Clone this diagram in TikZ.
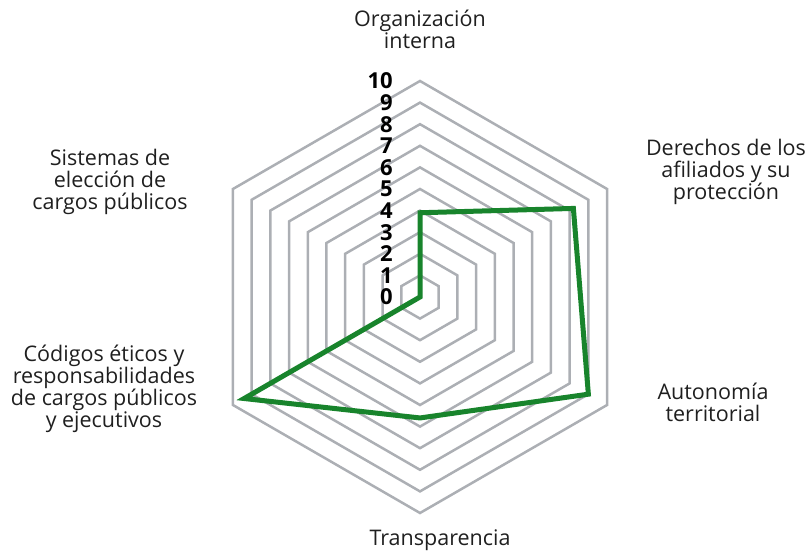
\documentclass[tikz,border=0pt]{standalone}
\usepackage{fontspec}
\setmainfont{Open Sans}
\usetikzlibrary{positioning}

\definecolor{ringgray}{RGB}{172,175,180}
\definecolor{scoregreen}{RGB}{24,132,44}

\tikzset{
  ring/.style={draw=ringgray, line width=2.5pt, line join=miter},
  score/.style={draw=scoregreen, line width=5pt, line join=miter},
  axislabel/.style={align=center, text=black!88, inner sep=0pt,
    font=\fontsize{21.5}{21.8}\selectfont},
  ticklabel/.style={anchor=east, inner sep=0pt,
    font=\bfseries\fontsize{22}{22}\selectfont}
}

\begin{document}
\begin{tikzpicture}[x=1pt, y=1pt]
    \useasboundingbox (0,0) rectangle (812,556);
    \coordinate (O) at (420,259);
    \begin{scope}[shift={(O)}]
      % rings 1..10
      \foreach \k in {1,...,10}
        \draw[ring] (90:\k*21.6) -- (30:\k*21.6) -- (-30:\k*21.6)
          -- (-90:\k*21.6) -- (-150:\k*21.6) -- (150:\k*21.6) -- cycle;
      \foreach \k in {0,...,10}
        \node[ticklabel] (t\k) at (-27,\k*21.6) {\k};
      % puntuaciones
      \foreach \a/\v [count=\i] in {90/3.9,30/8.2,-30/9.0,-90/5.6,-150/9.4,150/0}
        \coordinate (p\i) at (\a:\v*21.6);
      \draw[score] (p1) -- (p2) -- (p3) -- (p4) -- (p5) -- (p6) -- cycle;
    \end{scope}
    \node[axislabel] (org) at (420,527) {Organización\\interna};
    \node[axislabel] (der) at (726,384) {Derechos de los\\afiliados y su\\protección};
    \node[axislabel] (aut) at (713,154) {Autonomía\\territorial};
    \node[axislabel] (tra) at (440,16) {Transparencia};
    \node[axislabel] (cod) at (104,167) {Códigos éticos y\\responsabilidades\\de cargos públicos\\y ejecutivos};
    \node[axislabel] (sis) at (110,374) {Sistemas de\\elección de\\cargos públicos};
\end{tikzpicture}
\end{document}
